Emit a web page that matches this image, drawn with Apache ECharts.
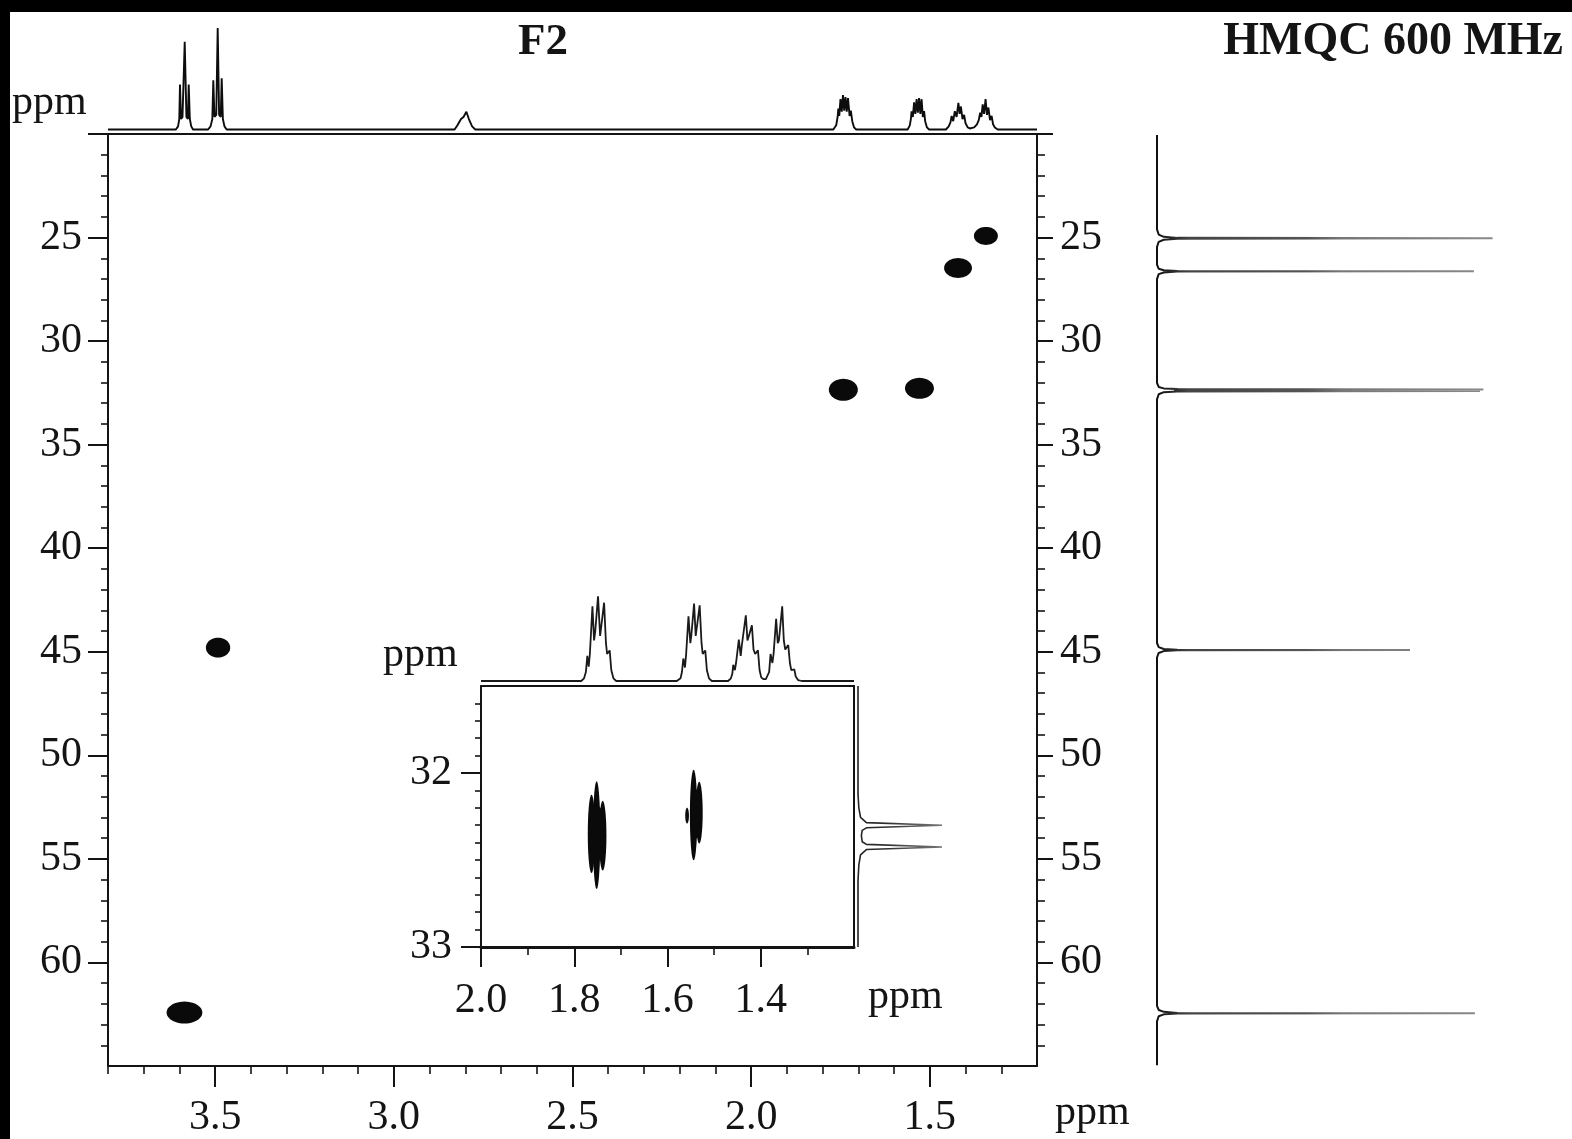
<!DOCTYPE html>
<html>
<head>
<meta charset="utf-8">
<script src="https://cdn.jsdelivr.net/npm/echarts@6/dist/echarts.min.js"></script>
<style>
html,body{margin:0;padding:0;background:#fff;}
#chart{width:1572px;height:1139px;}
</style>
</head>
<body>
<div id="chart"></div>
<script>
// ---------- DATA ----------
// 1H projection (F2), [ppm, relative intensity]
const protonSpectrum = [
  [3.80,0],[3.610,0],[3.604,0.03],[3.6005,0.1],[3.5985,0.43],[3.5955,0.1],[3.5915,0.12],[3.5853,0.84],[3.5805,0.12],[3.5765,0.1],[3.5741,0.43],[3.571,0.1],[3.567,0.03],[3.562,0],
  [3.520,0],[3.513,0.03],[3.508,0.1],[3.5053,0.47],[3.502,0.12],[3.497,0.14],[3.4930,0.97],[3.489,0.14],[3.4845,0.12],[3.4818,0.49],[3.4785,0.1],[3.474,0.03],[3.468,0],
  [2.830,0],[2.822,0.04],[2.812,0.1],[2.805,0.12],[2.797,0.17],[2.790,0.1],[2.781,0.03],[2.772,0],
  [1.770,0],[1.762,0.04],[1.758,0.12],[1.756,0.2],[1.7535,0.13],[1.750,0.29],[1.7465,0.17],[1.743,0.33],[1.7395,0.18],[1.736,0.31],[1.7325,0.17],[1.729,0.30],[1.7245,0.13],[1.721,0.18],[1.717,0.08],[1.712,0.02],[1.706,0],
  [1.562,0],[1.556,0.04],[1.553,0.1],[1.551,0.175],[1.5475,0.12],[1.544,0.26],[1.5405,0.15],[1.537,0.29],[1.5335,0.16],[1.530,0.30],[1.5265,0.15],[1.523,0.29],[1.5195,0.12],[1.516,0.175],[1.513,0.08],[1.508,0.02],[1.502,0],
  [1.455,0],[1.447,0.03],[1.442,0.07],[1.439,0.13],[1.4345,0.08],[1.430,0.175],[1.425,0.12],[1.420,0.255],[1.4165,0.15],[1.413,0.22],[1.4085,0.1],[1.404,0.14],[1.400,0.06],[1.394,0.02],[1.388,0.01],
  [1.383,0.01],[1.376,0.02],[1.368,0.05],[1.363,0.09],[1.359,0.16],[1.3555,0.12],[1.352,0.24],[1.348,0.15],[1.344,0.29],[1.340,0.14],[1.336,0.21],[1.3315,0.09],[1.327,0.13],[1.323,0.05],[1.318,0.02],[1.310,0],[1.20,0]
];
// 13C projection (F1), [relative intensity, ppm]
const carbonSpectrum = [
  [0,20.05],[0,24.6],[0.005,24.85],[0.02,24.96],[0.06,25.01],[0.987,25.03],[0.06,25.05],[0.02,25.1],[0.005,25.2],[0,25.45],
  [0,26.3],[0.005,26.5],[0.02,26.57],[0.06,26.605],[0.932,26.62],[0.06,26.635],[0.02,26.68],[0.005,26.76],[0,27.0],
  [0,32.0],[0.005,32.2],[0.02,32.27],[0.06,32.3],[0.96,32.32],[0.06,32.345],[0.05,32.365],[0.06,32.385],[0.95,32.40],[0.06,32.42],[0.02,32.45],[0.005,32.55],[0,32.8],
  [0,44.55],[0.005,44.75],[0.02,44.84],[0.06,44.875],[0.744,44.89],[0.06,44.905],[0.02,44.94],[0.005,45.03],[0,45.25],
  [0,62.05],[0.005,62.25],[0.02,62.34],[0.06,62.395],[0.935,62.41],[0.06,62.425],[0.02,62.46],[0.005,62.55],[0,62.8],
  [0,64.92]
];
// HMQC cross peaks: [1H ppm, 13C ppm, 1H width ppm, 13C width ppm]
const crossPeaks = [
  [3.586, 62.42, 0.100, 1.06],
  [3.492, 44.80, 0.068, 0.96],
  [1.742, 32.35, 0.081, 1.06],
  [1.529, 32.28, 0.081, 1.01],
  [1.421, 26.47, 0.078, 0.96],
  [1.343, 24.92, 0.067, 0.87]
];
// Inset (expanded 1H 2.0-1.2, 13C 31.5-33)
const insetProtonSpectrum = [
  [2.0,0],[1.785,0],[1.779,0.03],[1.775,0.1],[1.772,0.28],[1.769,0.16],[1.7665,0.3],[1.761,0.83],[1.7575,0.45],[1.755,0.55],[1.749,0.94],[1.7445,0.5],[1.742,0.48],[1.736,0.87],[1.732,0.42],[1.7295,0.3],[1.724,0.34],[1.7205,0.12],[1.716,0.03],[1.710,0],
  [1.580,0],[1.572,0.03],[1.569,0.1],[1.566,0.25],[1.5625,0.15],[1.560,0.3],[1.555,0.72],[1.551,0.42],[1.549,0.5],[1.543,0.86],[1.5395,0.5],[1.537,0.5],[1.531,0.84],[1.527,0.42],[1.5245,0.3],[1.519,0.34],[1.5155,0.12],[1.511,0.03],[1.505,0],
  [1.470,0],[1.464,0.03],[1.461,0.08],[1.459,0.18],[1.4555,0.12],[1.453,0.2],[1.447,0.46],[1.443,0.28],[1.4405,0.4],[1.432,0.73],[1.4285,0.45],[1.4255,0.5],[1.419,0.62],[1.4155,0.35],[1.412,0.3],[1.406,0.34],[1.4025,0.12],[1.399,0.04],[1.394,0.02],[1.389,0.02],
  [1.386,0.03],[1.382,0.1],[1.379,0.30],[1.375,0.2],[1.3725,0.3],[1.367,0.69],[1.3635,0.42],[1.361,0.45],[1.354,0.83],[1.3505,0.45],[1.3475,0.35],[1.341,0.40],[1.3375,0.2],[1.3345,0.12],[1.328,0.13],[1.325,0.05],[1.320,0.01],[1.312,0],[1.2,0]
];
const insetCarbonSpectrum = [
  [0,31.5],[0,32.12],[0.01,32.2],[0.03,32.255],[0.1,32.285],[1,32.30],[0.1,32.315],[0.05,32.33],[0.04,32.36],[0.05,32.395],[0.1,32.41],[1,32.425],[0.1,32.44],[0.03,32.47],[0.01,32.53],[0,32.62],[0,33.0]
];
const insetCrossPeaks = [
  [1.763, 32.350, 0.016, 0.45],
  [1.752, 32.357, 0.016, 0.62],
  [1.739, 32.360, 0.016, 0.40],
  [1.751, 32.345, 0.038, 0.31],
  [1.544, 32.242, 0.016, 0.52],
  [1.532, 32.228, 0.015, 0.355],
  [1.538, 32.235, 0.022, 0.28],
  [1.558, 32.245, 0.008, 0.09]
];
// Tick values / labels
const xMajorTicks = [1.5, 2.0, 2.5, 3.0, 3.5];
const xMinorTicks = [1.3,1.4,1.6,1.7,1.8,1.9,2.1,2.2,2.3,2.4,2.6,2.7,2.8,2.9,3.1,3.2,3.3,3.4,3.6,3.7,3.8];
const yMajorTicks = [20,25,30,35,40,45,50,55,60];
const yTickLabels = [25,30,35,40,45,50,55,60];
const yMinorTicks = [21,22,23,24,26,27,28,29,31,32,33,34,36,37,38,39,41,42,43,44,46,47,48,49,51,52,53,54,56,57,58,59,61,62,63,64];
const insetXMajor = [2.0,1.8,1.6,1.4];
const insetXMinor = [1.9,1.7,1.5,1.3];
const insetYMajor = [32,33];
const insetYMinor = [31.6,31.7,31.8,31.9,32.1,32.2,32.3,32.4,32.5,32.6,32.7,32.8,32.9];

// ---------- CHART ----------
const FONT = "'Liberation Serif','Times New Roman',serif";
const INK = '#141414';
const chart = echarts.init(document.getElementById('chart'), null, {renderer:'canvas'});

function hidden(extra){ return Object.assign({type:'value', show:false, splitLine:{show:false}, axisLine:{onZero:false}}, extra); }
function tickAxis(extra, ticks, len, width, labels, fmt, margin){
  return Object.assign({
    type:'value', splitLine:{show:false},
    axisLine:{show:false, onZero:false},
    axisTick:{show:true, customValues:ticks, length:len, lineStyle:{color:INK, width:width}},
    axisLabel: labels ? {show:true, customValues:labels, formatter:fmt, margin:margin,
      fontFamily:FONT, fontSize:42, color:INK} : {show:false}
  }, extra);
}
function lineAxis(extra, w){
  return Object.assign({type:'value', splitLine:{show:false},
    axisLine:{show:true, onZero:false, lineStyle:{color:INK, width:w||2}},
    axisTick:{show:false}, axisLabel:{show:false}}, extra);
}
const fx1 = v => v.toFixed(1);
const fint = v => String(Math.round(v));

function blobRender(params, api){
  const c = api.coord([api.value(0), api.value(1)]);
  const s = api.size([api.value(2), api.value(3)], [api.value(0), api.value(1)]);
  const pts = [];
  const n = 48;
  for (let i = 0; i < n; i++) {
    const t = i / n * Math.PI * 2;
    pts.push([c[0] + s[0] / 2 * Math.cos(t), c[1] + s[1] / 2 * Math.sin(t)]);
  }
  return {type:'polygon', shape:{points:pts}, style:{fill:'#0a0a0a'}};
}

const MX = {min:1.2, max:3.8, inverse:true};
const MY = {min:20, max:65, inverse:true};
const IX = {min:1.2, max:2.0, inverse:true};
const IY = {min:31.5, max:33, inverse:true};

const option = {
  backgroundColor:'#ffffff',
  animation:false,
  grid:[
    {left:108, top:134, width:929, height:933},      // 0 main 2D
    {left:108, top:25, width:929, height:104.5},     // 1 1H projection
    {left:1157, top:134, width:340, height:933},     // 2 13C projection
    {left:481, top:686, width:373, height:261},      // 3 inset 2D
    {left:481, top:591, width:373, height:90},       // 4 inset 1H
    {left:858, top:686, width:84, height:261}        // 5 inset 13C
  ],
  xAxis:[
    tickAxis(Object.assign({gridIndex:0, position:'bottom', axisLine:{show:true, onZero:false, lineStyle:{color:INK,width:2}}}, MX), xMajorTicks, 21, 2, xMajorTicks, fx1, 31),
    tickAxis(Object.assign({gridIndex:0, position:'bottom'}, MX), xMinorTicks, 8, 1.6, null),
    lineAxis(Object.assign({gridIndex:0, position:'top'}, MX)),
    hidden(Object.assign({gridIndex:1}, MX)),
    hidden({gridIndex:2, min:0, max:1}),
    tickAxis(Object.assign({gridIndex:3, position:'bottom', axisLine:{show:true, onZero:false, lineStyle:{color:INK,width:3}}}, IX), insetXMajor, 20, 2, insetXMajor, fx1, 33),
    tickAxis(Object.assign({gridIndex:3, position:'bottom'}, IX), insetXMinor, 8, 1.6, null),
    lineAxis(Object.assign({gridIndex:3, position:'top'}, IX)),
    hidden(Object.assign({gridIndex:4}, IX)),
    hidden({gridIndex:5, min:0, max:1})
  ],
  yAxis:[
    tickAxis(Object.assign({gridIndex:0, position:'left', axisLine:{show:true, onZero:false, lineStyle:{color:INK,width:2}}}, MY), yMajorTicks, 20, 2, yTickLabels, fint, 26),
    tickAxis(Object.assign({gridIndex:0, position:'left'}, MY), yMinorTicks, 7, 1.6, null),
    tickAxis(Object.assign({gridIndex:0, position:'right', axisLine:{show:true, onZero:false, lineStyle:{color:INK,width:2}}}, MY), yMajorTicks, 16, 2, yTickLabels, fint, 23),
    tickAxis(Object.assign({gridIndex:0, position:'right'}, MY), yMinorTicks, 8, 1.6, null),
    hidden({gridIndex:1, min:0, max:1}),
    hidden(Object.assign({gridIndex:2}, MY)),
    tickAxis(Object.assign({gridIndex:3, position:'left', axisLine:{show:true, onZero:false, lineStyle:{color:INK,width:2}}}, IY), insetYMajor, 20, 2, insetYMajor, fint, 29),
    tickAxis(Object.assign({gridIndex:3, position:'left'}, IY), insetYMinor, 6, 1.6, null),
    lineAxis(Object.assign({gridIndex:3, position:'right'}, IY)),
    hidden({gridIndex:4, min:0, max:1}),
    hidden(Object.assign({gridIndex:5}, IY))
  ],
  series:[
    {type:'custom', name:'HMQC', xAxisIndex:0, yAxisIndex:0, data:crossPeaks, encode:{x:0, y:1}, renderItem:blobRender},
    {type:'line', name:'1H', xAxisIndex:3, yAxisIndex:4, data:protonSpectrum, showSymbol:false, symbol:'none',
      lineStyle:{color:'#0d0d0d', width:1.9}, clip:false},
    {type:'line', name:'13C', xAxisIndex:4, yAxisIndex:5, data:carbonSpectrum, showSymbol:false, symbol:'none', clip:false,
      lineStyle:{width:2, color:new echarts.graphic.LinearGradient(0,0,1,0,[
        {offset:0,color:'#0d0d0d'},{offset:0.04,color:'#222'},{offset:0.1,color:'#444'},
        {offset:0.45,color:'#555'},{offset:0.55,color:'#777'},{offset:1,color:'#8a8a8a'}])}},
    {type:'custom', name:'inset HMQC', xAxisIndex:5, yAxisIndex:6, data:insetCrossPeaks, encode:{x:0, y:1}, renderItem:blobRender},
    {type:'line', name:'inset 1H', xAxisIndex:8, yAxisIndex:9, data:insetProtonSpectrum, showSymbol:false, symbol:'none',
      lineStyle:{color:'#1a1a1a', width:1.8}, clip:false},
    {type:'line', name:'inset 13C', xAxisIndex:9, yAxisIndex:10, data:insetCarbonSpectrum, showSymbol:false, symbol:'none', clip:false,
      lineStyle:{width:1.6, color:new echarts.graphic.LinearGradient(0,0,1,0,[
        {offset:0,color:'#222'},{offset:0.4,color:'#333'},{offset:0.6,color:'#555'},{offset:1,color:'#777'}])}}
  ],
  graphic:[
    {type:'text', x:543, y:42, style:{text:'F2', fontFamily:FONT, fontSize:45, fontWeight:'bold', fill:INK, align:'center', verticalAlign:'middle', textAlign:'center', textVerticalAlign:'middle'}},
    {type:'text', x:1563, y:42, style:{text:'HMQC 600 MHz', fontFamily:FONT, fontSize:46, fontWeight:'bold', fill:INK, align:'right', verticalAlign:'middle', textAlign:'right', textVerticalAlign:'middle'}},
    {type:'text', x:12, y:103, style:{text:'ppm', fontFamily:FONT, fontSize:42, fill:INK, align:'left', verticalAlign:'middle', textAlign:'left', textVerticalAlign:'middle'}},
    {type:'text', x:383, y:655, style:{text:'ppm', fontFamily:FONT, fontSize:42, fill:INK, align:'left', verticalAlign:'middle', textAlign:'left', textVerticalAlign:'middle'}},
    {type:'text', x:868, y:997, style:{text:'ppm', fontFamily:FONT, fontSize:42, fill:INK, align:'left', verticalAlign:'middle', textAlign:'left', textVerticalAlign:'middle'}},
    {type:'text', x:1055, y:1113, style:{text:'ppm', fontFamily:FONT, fontSize:42, fill:INK, align:'left', verticalAlign:'middle', textAlign:'left', textVerticalAlign:'middle'}},
    {type:'rect', z:100, shape:{x:0, y:0, width:1572, height:12}, style:{fill:'#000'}},
    {type:'rect', z:100, shape:{x:0, y:0, width:10, height:1139}, style:{fill:'#000'}}
  ]
};
chart.setOption(option);
</script>
</body>
</html>
